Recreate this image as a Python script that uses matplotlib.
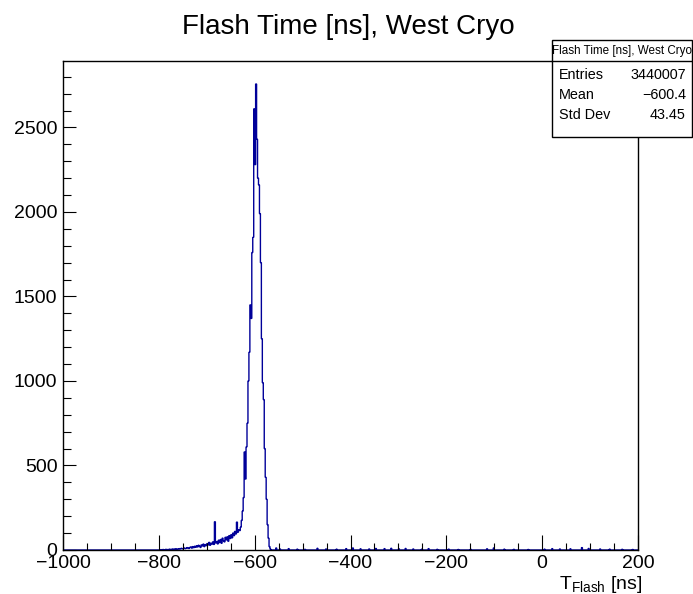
import numpy as np
import matplotlib
matplotlib.use("Agg")
import matplotlib.pyplot as plt
from matplotlib.patches import Rectangle
from matplotlib.lines import Line2D
from matplotlib.ticker import MultipleLocator

plt.rcParams['font.family'] = ['Liberation Sans', 'DejaVu Sans']
plt.rcParams['mathtext.fontset'] = 'custom'
plt.rcParams['mathtext.rm'] = 'Liberation Sans'
plt.rcParams['mathtext.it'] = 'Liberation Sans:italic'

# ---------------- data ----------------
title = "Flash Time [ns], West Cryo"
x_min, x_max, bin_width = -1000, 200, 2

# left tail, 2 ns bins starting at -800
left_tail_start = -800
left_tail_counts = [0, 0, 2, 0, 3, 0, 2, 4, 0, 3,
                    3, 5, 2, 4, 6, 3, 5, 7, 4, 6,
                    5, 8, 6, 10, 7, 9, 12, 8, 10, 14,
                    12, 9, 15, 18, 11, 20, 14, 22, 16, 25,
                    18, 28, 22, 15, 30, 24, 35, 20, 32, 26,
                    38, 30, 45, 28, 40, 35, 48, 33, 167, 42,
                    50, 36, 58, 44, 62, 40, 70, 55, 48, 75]

# main peak, 2 ns bins starting at -660
peak_start = -660
peak_counts = [60, 78, 52, 85, 68, 90, 72, 100, 85, 110,
               95, 165, 105, 120, 115, 135, 175, 230, 310, 580,
               420, 610, 750, 1000, 1170, 1450, 1370, 1760, 1850, 2610,
               2280, 2757, 2430, 2200, 2160, 1990, 1700, 1250, 990, 890,
               600, 430, 300, 150, 70, 20, 5]

# sparse small entries to the right of the peak
right_tail_ns = [-556, -548, -530, -512, -496, -470, -452, -430, -410, -396,
                 -380, -362, -348, -330, -316, -300, -286, -270, -252, -238,
                 -220, -196, -176, -150, -116, -102, -80, -60, -30, 4,
                 20, 36, 58, 82, 96, 120, 140, 166, 188]
right_tail_counts = [12, 6, 8, 5, 4, 10, 6, 5, 8, 12,
                     7, 6, 9, 8, 10, 7, 9, 6, 5, 8,
                     4, 5, 3, 4, 7, 12, 5, 4, 3, 5,
                     8, 6, 7, 14, 9, 6, 5, 4, 3]

stat_labels = ["Entries", "Mean", "Std Dev"]
stat_values = ["3440007", "\u2212600.4", "43.45"]

# ---------------- build histogram ----------------
edges = np.arange(x_min, x_max + bin_width, bin_width)
counts = np.zeros(len(edges) - 1)
i0 = (left_tail_start - x_min) // bin_width
counts[i0:i0 + len(left_tail_counts)] = left_tail_counts
i1 = (peak_start - x_min) // bin_width
counts[i1:i1 + len(peak_counts)] = peak_counts
for xv, cv in zip(right_tail_ns, right_tail_counts):
    counts[(xv - x_min) // bin_width] = cv

W, H = 693, 594
fig = plt.figure(figsize=(W / 100, H / 100), dpi=100)
ax = fig.add_axes([63 / W, 1 - 550 / H, (638 - 63) / W, (550 - 61) / H])
ax.stairs(counts, edges, color='#000099', linewidth=1.0)
ax.set_xlim(x_min, x_max)
ax.set_ylim(0, 2893)

ax.xaxis.set_major_locator(MultipleLocator(200))
ax.xaxis.set_minor_locator(MultipleLocator(50))
ax.yaxis.set_major_locator(MultipleLocator(500))
ax.yaxis.set_minor_locator(MultipleLocator(100))
ax.tick_params(axis='both', which='both', direction='in', top=False, right=False,
               labelsize=14, width=0.8)
ax.tick_params(axis='x', which='major', length=10.5, pad=3.5)
ax.tick_params(axis='x', which='minor', length=5)
ax.tick_params(axis='y', which='major', length=9.5, pad=4)
ax.tick_params(axis='y', which='minor', length=5.5)
for s in ax.spines.values():
    s.set_linewidth(1.0)

fig.text(348 / W, 1 - 34 / H, title, ha='center', va='baseline', fontsize=20)
fig.text(642 / W, 1 - 574 / H, r'T$_{\rm Flash}$ [ns]', ha='right', va='top', fontsize=14)

# stats box
bx0, bx1, by0, by1, bsep = 552, 692, 40, 137, 61
fig.add_artist(Rectangle((bx0 / W, 1 - by1 / H), (bx1 - bx0) / W, (by1 - by0) / H,
                         transform=fig.transFigure, facecolor='white',
                         edgecolor='black', linewidth=1.0))
fig.add_artist(Line2D([bx0 / W, bx1 / W], [1 - bsep / H, 1 - bsep / H],
                      transform=fig.transFigure, color='black', linewidth=1.0))
fig.text((bx0 + bx1) / 2 / W, 1 - 51 / H, title, ha='center', va='center', fontsize=8.4)
row_y = [75, 95, 115]
for lab, val, yy in zip(stat_labels, stat_values, row_y):
    fig.text(559 / W, 1 - yy / H, lab, ha='left', va='center', fontsize=10.4)
    fig.text(686 / W, 1 - yy / H, val, ha='right', va='center', fontsize=10.4)

fig.savefig("out.png", dpi=100)
